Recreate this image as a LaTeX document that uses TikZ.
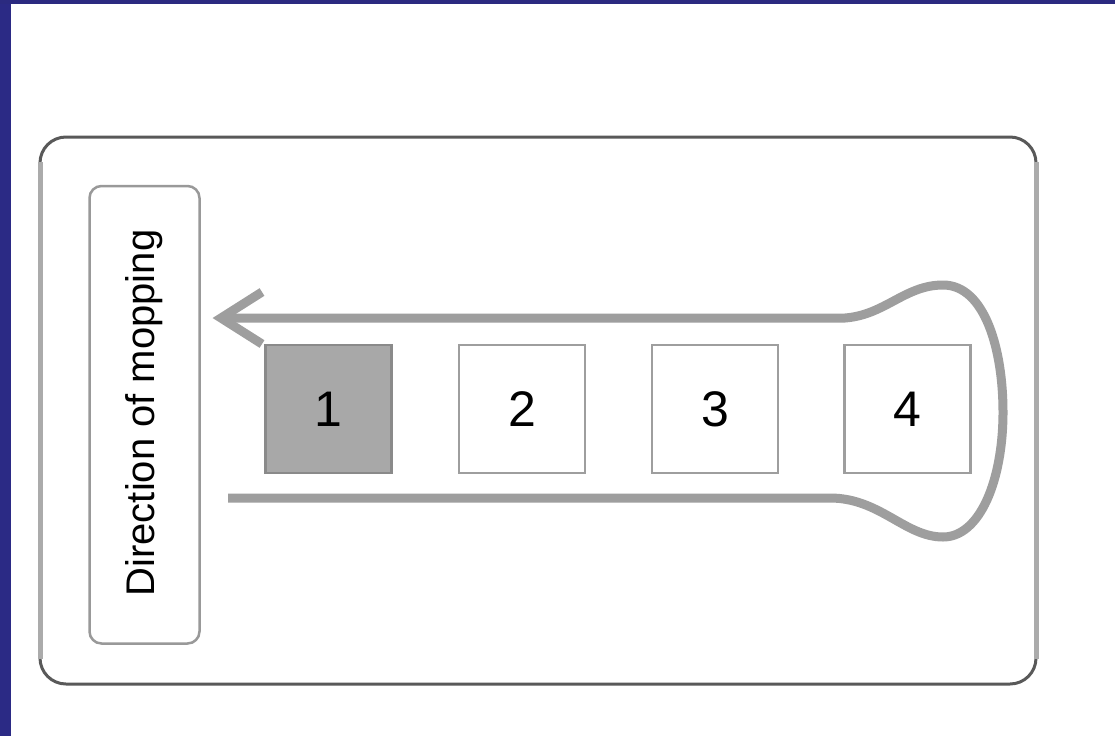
\documentclass[tikz,border=0pt]{standalone}
\usepackage{fontspec}
\setmainfont{Liberation Sans}
\begin{document}
\begin{tikzpicture}[x=1pt,y=-1pt,
  frame/.style={draw=black!65,line width=3pt,rounded corners=26pt},
  framesides/.style={draw=black!33,line width=5pt},
  labelbox/.style={draw=black!40,line width=2.5pt,rounded corners=12pt},
  cell/.style={draw=black!38,line width=2.5pt,fill=white,minimum width=126pt,minimum height=128pt,inner sep=0pt,font=\fontsize{50}{60}\selectfont},
  activecell/.style={cell,fill=black!34,draw=black!46},
  mop/.style={draw=black!38,line width=9pt,line cap=butt},
  mophead/.style={draw=black!38,line width=9pt,line join=miter}
]
\useasboundingbox (0,0) rectangle (1115,736);
\fill[white] (0,0) rectangle (1115,736);
\fill[blue!45!black!85!white, fill={rgb,255:red,43;green,42;blue,133}] (0,0) rectangle (11,736);
\fill[fill={rgb,255:red,43;green,42;blue,128}] (0,0) rectangle (1115,4);
% outer frame
\draw[frame] (40,137) rectangle (1036,684);
\draw[framesides] (40,162) -- (40,659);
\draw[framesides] (1036,162) -- (1036,659);
% label box
\draw[labelbox] (89.5,186) rectangle (199.5,643.5);
\node[rotate=90,font=\fontsize{40}{48}\selectfont] (lbl) at (144.5,413) {Direction of mopping};
% cells
\node[activecell] (c1) at (328.5,409) {1};
\node[cell] (c2) at (522,409) {2};
\node[cell] (c3) at (715,409) {3};
\node[cell] (c4) at (907.5,409) {4};
% mopping path
\coordinate (tip) at (221,318);
\coordinate (armA) at (262,292);
\coordinate (armB) at (262,344);
\draw[mop] (225,318) -- (845,318)
  .. controls (885,315) and (905,285) .. (943,285)
  .. controls (985,285) and (1003,350) .. (1003,412)
  .. controls (1003,480) and (980,537) .. (943,537)
  .. controls (905,537) and (880,498) .. (830,498)
  -- (228,498);
\draw[mophead] (armA) -- (tip) -- (armB);
\end{tikzpicture}
\end{document}
